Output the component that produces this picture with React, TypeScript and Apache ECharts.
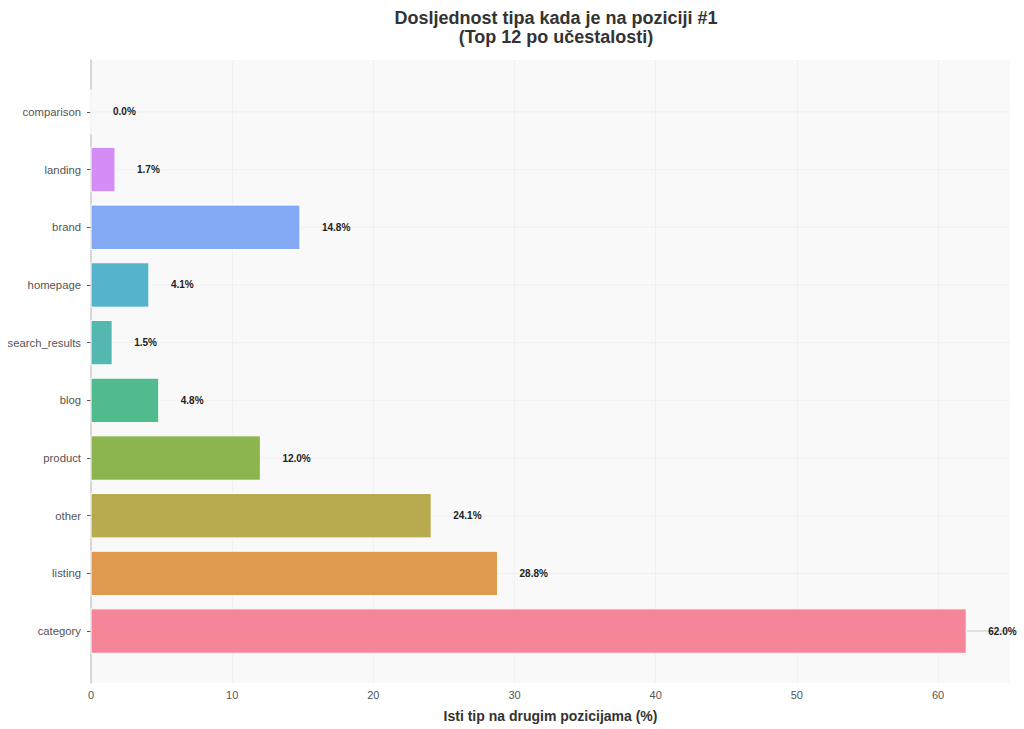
import React, { useEffect, useRef } from "react";
import * as echarts from "echarts";

const categories = ["category", "listing", "other", "product", "blog", "search_results", "homepage", "brand", "landing", "comparison"];
const values = [62.0, 28.8, 24.1, 12.0, 4.8, 1.5, 4.1, 14.8, 1.7, 0.0];
const barColors = ["#f5869a", "#df9a50", "#b8aa4f", "#8cb550", "#50bb8c", "#52b8b0", "#55b3cc", "#84a9f4", "#d38df5", "#f27ad6"];
const xTicks = [0, 10, 20, 30, 40, 50, 60];
const titleText = "Dosljednost tipa kada je na poziciji #1\n(Top 12 po učestalosti)";
const xAxisName = "Isti tip na drugim pozicijama (%)";

const FONT = "'Liberation Sans', Arial, Helvetica, sans-serif";
const X_MAX = 65.1;

export default function App() {
  const ref = useRef<HTMLDivElement>(null);
  useEffect(() => {
    if (!ref.current) return;
    const chart = echarts.init(ref.current, null, { renderer: "svg" });
    const yIdx = categories.map((_, i) => i);
    chart.setOption({
      animation: false,
      backgroundColor: "#ffffff",
      textStyle: { fontFamily: FONT },
      title: {
        text: titleText,
        left: 551,
        top: 3,
        textAlign: "center",
        textStyle: { fontFamily: FONT, fontSize: 18, fontWeight: "bold", color: "#333333", lineHeight: 19 },
      },
      grid: { left: 91, right: 14, top: 60, bottom: 46, show: true, backgroundColor: "#f9f9f9", borderWidth: 0 },
      xAxis: {
        type: "value",
        min: 0,
        max: X_MAX,
        name: xAxisName,
        nameLocation: "middle",
        nameGap: 26,
        nameTextStyle: { fontFamily: FONT, fontSize: 14, fontWeight: "bold", color: "#333333" },
        axisLine: { show: true, lineStyle: { color: "#cccccc", width: 1.5 } },
        axisTick: { show: true, length: 4, lineStyle: { color: "#555555" }, customValues: xTicks },
        axisLabel: { color: "#555555", fontSize: 11, margin: 6, customValues: xTicks },
        splitLine: { show: true, lineStyle: { color: "#efefef", width: 0.8 } },
      },
      yAxis: {
        type: "value",
        min: -0.9,
        max: 9.9,
        axisLine: { show: true, lineStyle: { color: "#cccccc", width: 1.5 } },
        axisTick: { show: true, length: 4, lineStyle: { color: "#555555" }, customValues: yIdx },
        axisLabel: {
          color: "#555555",
          fontSize: 11.3,
          margin: 10,
          customValues: yIdx,
          formatter: (v: number) => categories[Math.round(v)] ?? "",
        },
        splitLine: { show: false },
      },
      series: [
        {
          type: "custom",
          data: values.map((v, i) => [v, i]),
          encode: { x: 0, y: 1 },
          renderItem: (params: any, api: any) => {
            const v = api.value(0);
            const i = api.value(1);
            const start = api.coord([0, i]);
            const end = api.coord([v, i]);
            const right = api.coord([X_MAX, i]);
            const h = api.size([0, 0.77])[1];
            return {
              type: "group",
              children: [
                {
                  type: "line",
                  shape: { x1: start[0], y1: start[1], x2: right[0], y2: start[1] },
                  style: { stroke: "#efefef", lineWidth: 0.8 },
                  z2: 0,
                },
                {
                  type: "rect",
                  shape: { x: start[0], y: start[1] - h / 2, width: end[0] - start[0], height: h },
                  style: { fill: barColors[params.dataIndex], stroke: "#ffffff", lineWidth: 1 },
                  z2: 1,
                },
                {
                  type: "text",
                  style: {
                    text: v.toFixed(1) + "%",
                    x: end[0] + 22,
                    y: end[1],
                    align: "left",
                    verticalAlign: "middle",
                    font: `bold 10px ${FONT}`,
                    fill: "#222222",
                  },
                  z2: 2,
                },
              ],
            };
          },
        },
      ],
    });
    return () => chart.dispose();
  }, []);
  return <div ref={ref} style={{ position: "fixed", left: 0, top: 0, width: 1024, height: 729 }} />;
}
